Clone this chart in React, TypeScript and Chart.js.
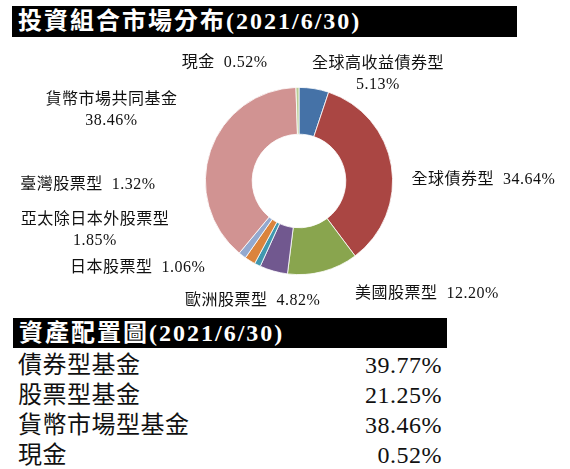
import React, { useEffect, useRef } from 'react';
import { Chart, registerables } from 'chart.js';

Chart.register(...registerables);

// 投資組合市場分布 (2021/6/30)
const asOfDate = '2021/6/30';
const marketNames = [
  '全球高收益債券型',
  '全球債券型',
  '美國股票型',
  '歐洲股票型',
  '日本股票型',
  '亞太除日本外股票型',
  '臺灣股票型',
  '貨幣市場共同基金',
  '現金',
];
const marketShares = [5.13, 34.64, 12.2, 4.82, 1.06, 1.85, 1.32, 38.46, 0.52];

// 資產配置圖
const assetNames = ['債券型基金', '股票型基金', '貨幣市場型基金', '現金'];
const assetShares = [39.77, 21.25, 38.46, 0.52];

const sliceColors = [
  '#4572A7',
  '#AA4643',
  '#89A54E',
  '#71588F',
  '#4198AF',
  '#DB843D',
  '#93A9CF',
  '#D19392',
  '#B9CD96',
];

// where each label sits relative to the outer edge of its slice (like hand-placed Excel labels)
const labelSpots: { align: CanvasTextAlign; dx: number; dy: number; wrap?: boolean }[] = [
  { align: 'center', dx: 64, dy: -25, wrap: true },
  { align: 'left', dx: 20, dy: 14 },
  { align: 'left', dx: 32, dy: 22 },
  { align: 'center', dx: -21, dy: 30 },
  { align: 'right', dx: -52, dy: 3 },
  { align: 'center', dx: -155, dy: -41, wrap: true },
  { align: 'left', dx: -222, dy: -71 },
  { align: 'center', dx: -99, dy: -51, wrap: true },
  { align: 'right', dx: -30, dy: -25 },
];

const FONT = '"Liberation Serif", "Noto Sans CJK TC", serif';
const pct = (v: number) => v.toFixed(2) + '%';

const sliceLabels = {
  id: 'sliceLabels',
  afterDraw: (chart: Chart) => {
    const ctx = chart.ctx;
    const arcs = chart.getDatasetMeta(0).data as any[];
    ctx.save();
    ctx.font = `16px ${FONT}`;
    (ctx as any).letterSpacing = '0.5px';
    ctx.fillStyle = '#111';
    ctx.textBaseline = 'middle';
    arcs.forEach((arc, i) => {
      const { x, y, startAngle, endAngle, outerRadius } = arc.getProps(
        ['x', 'y', 'startAngle', 'endAngle', 'outerRadius'],
        true
      );
      const mid = (startAngle + endAngle) / 2;
      const ax = x + Math.cos(mid) * outerRadius;
      const ay = y + Math.sin(mid) * outerRadius;
      const spot = labelSpots[i];
      const lines = spot.wrap
        ? [marketNames[i], pct(marketShares[i])]
        : [marketNames[i] + '  ' + pct(marketShares[i])];
      ctx.textAlign = spot.align;
      lines.forEach((line, k) => {
        ctx.fillText(line, ax + spot.dx, ay + spot.dy + k * 21);
      });
    });
    ctx.restore();
  },
};

const MarketDoughnut: React.FC = () => {
  const canvasRef = useRef<HTMLCanvasElement>(null);
  const chartRef = useRef<Chart | null>(null);

  useEffect(() => {
    if (!canvasRef.current) return;
    const ctx = canvasRef.current.getContext('2d');
    if (!ctx) return;

    chartRef.current = new Chart(ctx, {
      type: 'doughnut',
      data: {
        labels: marketNames,
        datasets: [
          {
            data: marketShares,
            backgroundColor: sliceColors,
            borderColor: '#ffffff',
            borderWidth: 0.8,
          },
        ],
      },
      options: {
        responsive: false,
        animation: false,
        cutout: '50%',
        layout: {
          padding: { left: 205, right: 177, top: 47, bottom: 43 },
        },
        plugins: {
          legend: { display: false },
          tooltip: { enabled: false },
        },
      },
      plugins: [sliceLabels],
    });

    return () => {
      chartRef.current?.destroy();
      chartRef.current = null;
    };
  }, []);

  return (
    <canvas
      ref={canvasRef}
      width={570}
      height={278}
      style={{ position: 'absolute', left: 0, top: 40, width: 570, height: 278 }}
    />
  );
};

const titleBar = (top: number, left: number, width: number, height: number): React.CSSProperties => ({
  position: 'absolute',
  top,
  left,
  width,
  height,
  background: '#000',
  color: '#fff',
  fontFamily: FONT,
  fontWeight: 700,
  fontSize: 24,
  letterSpacing: '2px',
  lineHeight: `${height}px`,
  paddingLeft: 6,
  boxSizing: 'border-box',
  whiteSpace: 'nowrap',
});

const App: React.FC = () => {
  return (
    <div
      style={{
        position: 'absolute',
        left: 0,
        top: 0,
        width: 570,
        height: 469,
        background: '#fff',
        overflow: 'hidden',
      }}
    >
      <div style={titleBar(6, 12, 505, 31)}>投資組合市場分布({asOfDate})</div>
      <MarketDoughnut />
      <div style={titleBar(318, 13, 434, 30)}>資產配置圖({asOfDate})</div>
      {assetNames.map((name, i) => (
        <div
          key={name}
          style={{
            position: 'absolute',
            left: 18,
            top: 350 + i * 30,
            width: 424,
            height: 30,
            lineHeight: '30px',
            fontFamily: FONT,
            fontSize: 24,
            letterSpacing: '0.5px',
            color: '#111',
            display: 'flex',
            justifyContent: 'space-between',
          }}
        >
          <span>{name}</span>
          <span>{pct(assetShares[i])}</span>
        </div>
      ))}
    </div>
  );
};

export default App;
